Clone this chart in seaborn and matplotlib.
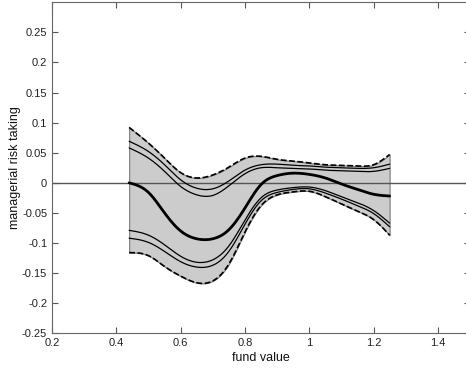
import numpy as np
import pandas as pd
import matplotlib
matplotlib.use("Agg")
import matplotlib.pyplot as plt
import seaborn as sns

# fund value grid
fund_value = [0.44, 0.50, 0.55, 0.60, 0.65, 0.70, 0.75, 0.80, 0.85,
              0.90, 0.95, 1.00, 1.05, 1.10, 1.15, 1.20, 1.25]

# point estimate (thick line)
estimate = [0.000, -0.016, -0.050, -0.080, -0.093, -0.093, -0.078, -0.042, -0.003,
            0.012, 0.016, 0.014, 0.008, -0.002, -0.011, -0.019, -0.022]

# outer band (dashed)
upper_outer = [0.092, 0.066, 0.041, 0.017, 0.008, 0.013, 0.026, 0.041, 0.044,
               0.039, 0.036, 0.033, 0.030, 0.029, 0.028, 0.030, 0.047]
lower_outer = [-0.116, -0.121, -0.139, -0.155, -0.166, -0.163, -0.135, -0.082, -0.038,
               -0.020, -0.015, -0.014, -0.023, -0.035, -0.047, -0.061, -0.087]

# inner bands (thin lines)
upper_inner1 = [0.069, 0.052, 0.030, 0.005, -0.009, -0.010, 0.003, 0.021, 0.030,
                0.031, 0.029, 0.028, 0.026, 0.025, 0.024, 0.025, 0.031]
upper_inner2 = [0.058, 0.041, 0.019, -0.006, -0.020, -0.021, -0.005, 0.015, 0.025,
                0.025, 0.024, 0.023, 0.021, 0.020, 0.019, 0.019, 0.024]
lower_inner1 = [-0.079, -0.087, -0.103, -0.122, -0.132, -0.128, -0.105, -0.062, -0.025,
                -0.012, -0.008, -0.007, -0.013, -0.023, -0.033, -0.046, -0.067]
lower_inner2 = [-0.092, -0.099, -0.114, -0.131, -0.140, -0.137, -0.114, -0.069, -0.030,
                -0.016, -0.011, -0.010, -0.017, -0.027, -0.038, -0.051, -0.073]

x_ticks = [0.2, 0.4, 0.6, 0.8, 1.0, 1.2, 1.4]
x_tick_labels = ["0.2", "0.4", "0.6", "0.8", "1", "1.2", "1.4"]
y_ticks = [-0.25, -0.2, -0.15, -0.1, -0.05, 0, 0.05, 0.1, 0.15, 0.2, 0.25]
y_tick_labels = ["-0.25", "-0.2", "-0.15", "-0.1", "-0.05", "0", "0.05", "0.1", "0.15", "0.2", "0.25"]


def smooth(xs, ys, n=400):
    """Natural cubic spline through the read points."""
    xs = np.asarray(xs, float); ys = np.asarray(ys, float)
    k = len(xs)
    h = np.diff(xs)
    A = np.zeros((k, k)); b = np.zeros(k)
    A[0, 0] = 1; A[-1, -1] = 1
    for i in range(1, k - 1):
        A[i, i - 1] = h[i - 1]
        A[i, i] = 2 * (h[i - 1] + h[i])
        A[i, i + 1] = h[i]
        b[i] = 6 * ((ys[i + 1] - ys[i]) / h[i] - (ys[i] - ys[i - 1]) / h[i - 1])
    M = np.linalg.solve(A, b)
    xf = np.linspace(xs[0], xs[-1], n)
    idx = np.clip(np.searchsorted(xs, xf) - 1, 0, k - 2)
    x0, x1 = xs[idx], xs[idx + 1]
    hh = x1 - x0
    a = (x1 - xf) / hh
    c = (xf - x0) / hh
    yf = (a * ys[idx] + c * ys[idx + 1]
          + ((a**3 - a) * M[idx] + (c**3 - c) * M[idx + 1]) * hh**2 / 6)
    return xf, yf


sns.set_style("white")
plt.rcParams['font.family'] = ['Liberation Sans', 'DejaVu Sans']

fig = plt.figure(figsize=(4.66, 3.69), dpi=100)
ax = fig.add_axes([52/466, (369-333.3)/369, 418/466, 331.1/369])

xs, uo = smooth(fund_value, upper_outer)
_, lo = smooth(fund_value, lower_outer)
ax.fill_between(xs, lo, uo, facecolor="#cccccc", edgecolor="#7a7a7a", linewidth=0.8, zorder=1)

ax.axhline(0, color="#555555", linewidth=1.0, zorder=2)

series = {
    "upper_outer": (upper_outer, "--", 1.2),
    "lower_outer": (lower_outer, "--", 1.2),
    "upper_inner1": (upper_inner1, "-", 0.9),
    "upper_inner2": (upper_inner2, "-", 0.9),
    "lower_inner1": (lower_inner1, "-", 0.9),
    "lower_inner2": (lower_inner2, "-", 0.9),
    "estimate": (estimate, "-", 2.0),
}
for name, (vals, ls, lw) in series.items():
    sx, sy = smooth(fund_value, vals)
    df = pd.DataFrame({"x": sx, "y": sy})
    sns.lineplot(data=df, x="x", y="y", ax=ax, color="black",
                 linewidth=lw, estimator=None, sort=False, zorder=3)
    if ls == "--":
        ax.lines[-1].set_dashes([3.5, 1.5])

ax.set_xlim(0.2, 1.5)
ax.set_ylim(-0.25, 0.3)
ax.set_xticks(x_ticks)
ax.set_xticklabels(x_tick_labels)
ax.set_yticks(y_ticks)
ax.set_yticklabels(y_tick_labels)
ax.tick_params(direction="in", length=4, width=0.8, colors="#555555",
               labelcolor="#222222", labelsize=8, top=True, right=True,
               bottom=True, left=True)
for sp in ax.spines.values():
    sp.set_visible(True)
    sp.set_color("#666666")
    sp.set_linewidth(0.8)
ax.set_xlabel("fund value", fontsize=9, color="#111111", labelpad=3)
ax.set_ylabel("managerial risk taking", fontsize=9, color="#111111")
ax.yaxis.set_label_coords(-0.074, 0.5)

fig.savefig("out.png", dpi=100)
